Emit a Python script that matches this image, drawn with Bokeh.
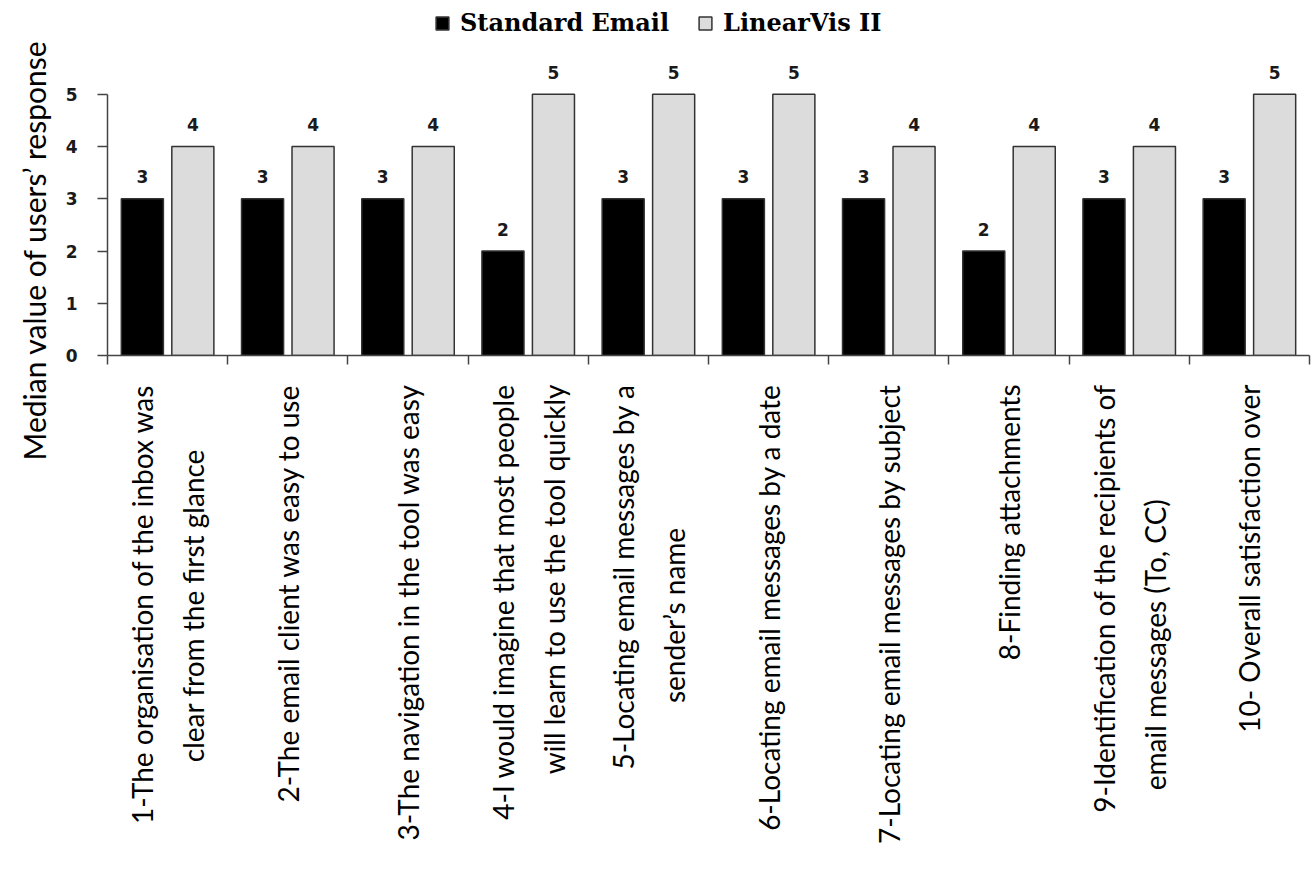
import math
from bokeh.plotting import figure
from bokeh.models import (Range1d, FixedTicker, ColumnDataSource, Legend, LegendItem)
from bokeh.core.properties import value
from bokeh.embed import file_html
from bokeh.resources import INLINE

# ---- data ----
questions = [
    ["1-The organisation of the inbox was", "clear from the first glance"],
    ["2-The email client was easy to use"],
    ["3-The navigation in the tool was easy"],
    ["4-I would imagine that most people", "will learn to use the tool quickly"],
    ["5-Locating email messages by a", "sender\u2019s name"],
    ["6-Locating email messages by a date"],
    ["7-Locating email messages by subject"],
    ["8-Finding attachments"],
    ["9-Identification of the recipients of", "email messages (To, CC)"],
    ["10- Overall satisfaction over"],
]
standard_email = [3, 3, 3, 2, 3, 3, 3, 2, 3, 3]
linearvis = [4, 4, 4, 5, 5, 5, 4, 4, 4, 5]
series_names = ["Standard Email", "LinearVis II"]
y_ticks = [0, 1, 2, 3, 4, 5]
y_title = "Median value of users\u2019 response"


def wrap_label(lines):
    # centre the shorter wrapped line (axis labels end-align each line)
    if len(lines) == 1:
        return lines[0]
    l1, l2 = lines
    pad = max(0, round((len(l1) - len(l2)) * 0.5 * 2.3))
    return l1 + "\n" + l2 + "\u00a0" * pad


idx = list(range(len(questions)))
BAR_W = 0.35
OFF = 0.21

p = figure(width=1312, height=874, output_backend="svg", toolbar_location=None,
           x_range=Range1d(-0.5, 9.5), y_range=Range1d(0, 6.7),
           min_border_left=107, min_border_right=3, min_border_top=5,
           min_border_bottom=519, title=y_title, title_location="left")
p.outline_line_color = None
p.xgrid.visible = False
p.ygrid.visible = False
p.background_fill_color = "white"
p.border_fill_color = "white"

# y-axis title (as a left-located plot title so it can sit off-centre)
p.title.align = "left"
p.title.offset = -105
p.title.text_font = "Lato"
p.title.text_font_style = "normal"
p.title.text_font_size = "30px"
p.title.text_color = "black"
p.title.standoff = 22

src = ColumnDataSource(dict(
    x1=[i - OFF for i in idx], x2=[i + OFF for i in idx],
    s=standard_email, l=linearvis,
    s_lab=[str(v) for v in standard_email], l_lab=[str(v) for v in linearvis],
    s_y=[v + 0.42 for v in standard_email], l_y=[v + 0.42 for v in linearvis],
))

r1 = p.vbar(x="x1", top="s", bottom=0, width=BAR_W, source=src,
            fill_color="black", line_color="#333333", line_width=1.5)
r2 = p.vbar(x="x2", top="l", bottom=0, width=BAR_W, source=src,
            fill_color="#dcdcdc", line_color="#333333", line_width=1.5)

for xcol, ycol, tcol in (("x1", "s_y", "s_lab"), ("x2", "l_y", "l_lab")):
    p.text(x=xcol, y=ycol, text=tcol, source=src, text_align="center",
           text_baseline="middle", text_font=value("DejaVu Sans"),
           text_font_style="bold", text_font_size="17px", text_color="#1a1a1a")

# y axis
ya = p.yaxis[0]
ya.bounds = (0, 5)
ya.ticker = FixedTicker(ticks=y_ticks)
ya.minor_tick_line_color = None
ya.major_tick_out = 10
ya.major_tick_in = 0
ya.axis_line_color = "#444444"
ya.axis_line_width = 1.5
ya.major_tick_line_color = "#444444"
ya.major_tick_line_width = 1.5
ya.major_label_text_font = "DejaVu Sans"
ya.major_label_text_font_style = "bold"
ya.major_label_text_font_size = "17px"
ya.major_label_text_color = "#1a1a1a"
ya.major_label_standoff = 20

# x axis
xa = p.xaxis[0]
xa.ticker = FixedTicker(ticks=idx, minor_ticks=[i - 0.5 for i in idx] + [9.5])
xa.major_label_overrides = {i: wrap_label(q) for i, q in zip(idx, questions)}
xa.major_label_orientation = math.pi / 2
xa.major_tick_out = 0
xa.major_tick_in = 0
xa.minor_tick_out = 9
xa.minor_tick_in = 0
xa.minor_tick_line_color = "#444444"
xa.minor_tick_line_width = 1.5
xa.axis_line_color = "#444444"
xa.axis_line_width = 1.5
xa.major_label_text_font = "Lato"
xa.major_label_text_font_size = "28px"
xa.major_label_text_color = "black"
xa.major_label_text_line_height = 1.5
xa.major_label_standoff = 20

legend = Legend(items=[LegendItem(label=series_names[0], renderers=[r1]),
                       LegendItem(label=series_names[1], renderers=[r2])],
                location=(327, 318), orientation="horizontal",
                label_text_font="DejaVu Serif", label_text_font_style="bold",
                label_text_font_size="24px", label_text_color="black",
                glyph_width=16, glyph_height=16, label_standoff=10, spacing=28,
                padding=4, margin=0, border_line_color=None,
                background_fill_alpha=0)
p.add_layout(legend, "center")

open("out.html", "w").write(file_html(p, INLINE))
